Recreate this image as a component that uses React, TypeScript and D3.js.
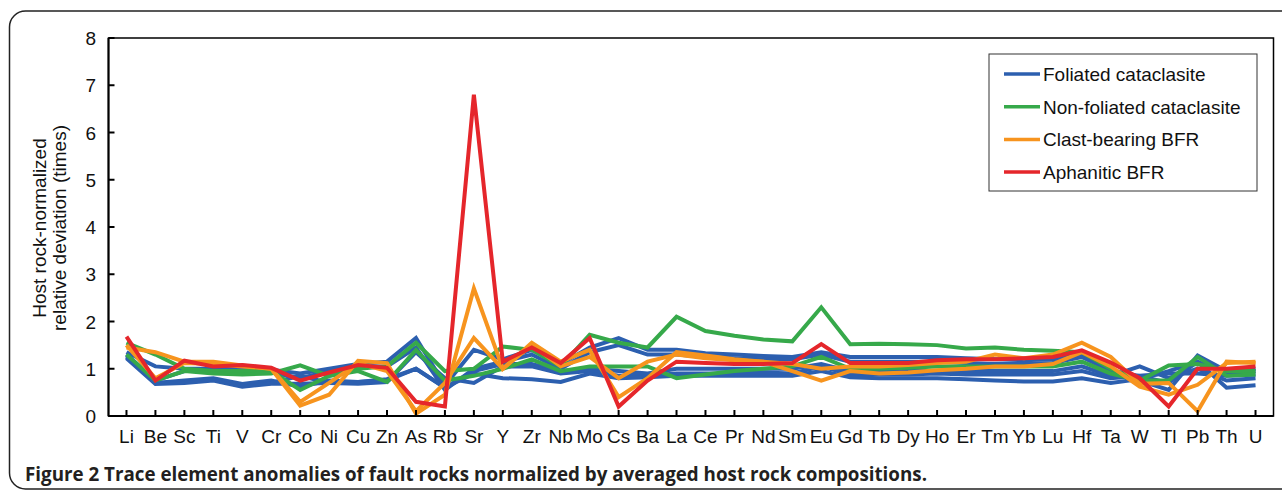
import React from "react";
import * as d3 from "d3";

const elements = [
  "Li", "Be", "Sc", "Ti", "V", "Cr", "Co", "Ni", "Cu", "Zn",
  "As", "Rb", "Sr", "Y", "Zr", "Nb", "Mo", "Cs", "Ba", "La",
  "Ce", "Pr", "Nd", "Sm", "Eu", "Gd", "Tb", "Dy", "Ho", "Er",
  "Tm", "Yb", "Lu", "Hf", "Ta", "W", "Tl", "Pb", "Th", "U",
];

const yTicks = [0, 1, 2, 3, 4, 5, 6, 7, 8];

// Foliated cataclasite samples
const foliated1 = [1.35, 1.05, 1.0, 1.0, 1.0, 0.98, 0.9, 1.0, 1.1, 1.15, 1.65, 0.65, 1.4, 1.2, 1.4, 1.1, 1.45, 1.65, 1.4, 1.4, 1.33, 1.3, 1.27, 1.25, 1.35, 1.25, 1.25, 1.25, 1.25, 1.22, 1.2, 1.18, 1.2, 1.3, 1.0, 0.75, 0.55, 1.28, 0.95, 1.0];
const foliated2 = [1.3, 0.75, 0.95, 0.95, 0.95, 0.92, 0.8, 0.95, 1.05, 1.05, 1.45, 0.55, 1.0, 1.15, 1.3, 1.0, 1.35, 1.5, 1.3, 1.3, 1.25, 1.22, 1.2, 1.2, 1.3, 1.15, 1.15, 1.15, 1.15, 1.12, 1.1, 1.1, 1.12, 1.25, 0.95, 0.85, 0.7, 1.15, 0.9, 0.95];
const foliated3 = [1.25, 0.7, 0.75, 0.8, 0.68, 0.75, 0.62, 0.75, 0.72, 0.78, 1.0, 0.6, 0.95, 1.1, 1.1, 0.95, 1.0, 0.95, 0.9, 1.0, 1.0, 1.0, 1.0, 1.0, 1.1, 0.95, 0.95, 0.95, 0.95, 0.95, 0.95, 0.95, 0.95, 1.05, 0.85, 1.05, 0.8, 1.0, 0.75, 0.8];
const foliated4 = [1.28, 0.7, 0.72, 0.78, 0.65, 0.7, 0.85, 0.7, 0.68, 0.72, 1.35, 0.8, 0.7, 1.05, 1.05, 0.9, 0.95, 0.85, 0.85, 0.9, 0.9, 0.9, 0.92, 0.9, 1.05, 0.88, 0.88, 0.88, 0.9, 0.88, 0.88, 0.88, 0.88, 0.95, 0.8, 0.85, 0.9, 0.9, 0.85, 0.88];
const foliated5 = [1.22, 0.68, 0.7, 0.75, 0.62, 0.68, 0.68, 0.7, 0.72, 0.75, 1.0, 0.6, 0.9, 0.8, 0.78, 0.72, 0.9, 0.8, 0.82, 0.85, 0.85, 0.85, 0.85, 0.85, 0.95, 0.82, 0.8, 0.8, 0.8, 0.78, 0.75, 0.73, 0.73, 0.8, 0.7, 0.78, 0.95, 1.15, 0.6, 0.65];

// Non-foliated cataclasite samples
const nonFoliated1 = [1.55, 1.3, 1.0, 0.95, 0.95, 0.95, 0.55, 0.85, 1.0, 1.05, 1.55, 0.95, 1.0, 1.47, 1.4, 1.05, 1.72, 1.55, 1.45, 2.1, 1.8, 1.7, 1.62, 1.58, 2.3, 1.52, 1.53, 1.52, 1.5, 1.43, 1.45, 1.4, 1.38, 1.35, 1.0, 0.75, 1.07, 1.1, 0.95, 0.95];
const nonFoliated2 = [1.3, 0.75, 0.95, 0.9, 0.88, 0.9, 1.07, 0.85, 0.95, 0.72, 1.4, 0.75, 0.85, 1.0, 1.2, 0.95, 1.05, 1.05, 1.05, 0.8, 0.88, 0.95, 1.0, 1.05, 1.25, 1.0, 1.0, 1.02, 1.05, 1.05, 1.05, 1.05, 1.05, 1.15, 0.9, 0.75, 0.75, 1.25, 0.85, 0.88];

// Clast-bearing BFR samples
const clastBearing1 = [1.45, 1.35, 1.15, 1.15, 1.07, 1.0, 0.22, 0.45, 1.17, 1.12, 0.05, 0.45, 2.7, 1.0, 1.55, 1.15, 1.4, 0.4, 0.8, 1.35, 1.28, 1.2, 1.15, 0.95, 0.75, 0.95, 0.9, 0.92, 0.97, 1.0, 1.05, 1.05, 1.1, 1.35, 1.05, 0.62, 0.45, 0.66, 1.12, 1.15];
const clastBearing2 = [1.5, 0.8, 1.12, 1.1, 1.05, 1.0, 0.3, 0.7, 1.12, 0.95, 0.1, 0.7, 1.65, 1.0, 1.5, 1.05, 1.25, 0.8, 1.15, 1.3, 1.22, 1.18, 1.15, 1.1, 1.0, 1.05, 1.05, 1.08, 1.12, 1.15, 1.3, 1.22, 1.3, 1.55, 1.25, 0.68, 0.7, 0.1, 1.15, 1.12];

// Aphanitic BFR
const aphanitic = [1.68, 0.75, 1.17, 1.05, 1.08, 1.02, 0.75, 0.92, 1.08, 1.02, 0.3, 0.2, 6.8, 1.15, 1.45, 1.12, 1.65, 0.2, 0.75, 1.15, 1.12, 1.1, 1.1, 1.12, 1.52, 1.12, 1.12, 1.12, 1.18, 1.2, 1.2, 1.22, 1.25, 1.39, 1.13, 0.8, 0.2, 1.0, 1.0, 1.05];

const groups = [
  { name: "Foliated cataclasite", color: "#2c5faf", series: [foliated1, foliated2, foliated3, foliated4, foliated5] },
  { name: "Non-foliated cataclasite", color: "#36a94a", series: [nonFoliated1, nonFoliated2] },
  { name: "Clast-bearing BFR", color: "#f7941e", series: [clastBearing1, clastBearing2] },
  { name: "Aphanitic BFR", color: "#e5262b", series: [aphanitic] },
];

const W = 1282;
const H = 491;
const plotLeft = 108.5;
const plotRight = 1273.5;
const plotTop = 38;
const plotBottom = 416;
const font = "'Liberation Sans', Arial, sans-serif";

export default function App() {
  const x = d3.scalePoint<string>().domain(elements).range([112, 1270]).padding(0.5);
  const y = d3.scaleLinear().domain([0, 8]).range([plotBottom, plotTop]);

  const line = d3
    .line<number>()
    .x((_, i) => x(elements[i]) as number)
    .y((d) => y(d));

  return (
    <svg width={W} height={H} style={{ position: "absolute", left: 0, top: 0, background: "#fff" }}>
      {/* outer figure frame */}
      <rect x={9.5} y={11} width={1300} height={478} rx={16} fill="none" stroke="#222" strokeWidth={1.5} />

      {/* lines */}
      <g fill="none" strokeWidth={4} strokeLinejoin="miter">
        {groups.map((g) =>
          g.series.map((s, i) => <path key={g.name + i} d={line(s) ?? ""} stroke={g.color} />)
        )}
      </g>

      {/* plot box */}
      <rect x={plotLeft} y={plotTop} width={plotRight - plotLeft} height={plotBottom - plotTop} fill="none" stroke="#000" strokeWidth={1.5} />
      <line x1={plotLeft} x2={plotLeft} y1={plotTop} y2={plotBottom} stroke="#000" strokeWidth={2} />
      <line x1={plotLeft} x2={plotRight} y1={plotBottom} y2={plotBottom} stroke="#000" strokeWidth={2} />

      {/* y ticks */}
      {yTicks.map((t) => (
        <g key={t}>
          <line x1={plotLeft} x2={plotLeft + 6} y1={y(t)} y2={y(t)} stroke="#000" strokeWidth={2} />
          <text x={96} y={y(t) + 7} textAnchor="end" fontFamily={font} fontSize={19} fill="#111">
            {t}
          </text>
        </g>
      ))}

      {/* x ticks */}
      {elements.map((e) => (
        <g key={e}>
          <line x1={x(e)} x2={x(e)} y1={plotBottom} y2={plotBottom - 6} stroke="#000" strokeWidth={2} />
          <text x={x(e)} y={443} textAnchor="middle" fontFamily={font} fontSize={19} fill="#111">
            {e}
          </text>
        </g>
      ))}

      {/* y axis title */}
      <text transform="translate(46,228) rotate(-90)" textAnchor="middle" fontFamily={font} fontSize={19} fill="#111">
        Host rock-normalized
      </text>
      <text transform="translate(66,228) rotate(-90)" textAnchor="middle" fontFamily={font} fontSize={19} fill="#111">
        relative deviation (times)
      </text>

      {/* legend */}
      <rect x={989} y={54} width={268} height={137} fill="#fff" stroke="#333" strokeWidth={1} />
      {groups.map((g, i) => (
        <g key={g.name} transform={`translate(0,${74 + i * 32.7})`}>
          <line x1={1004} x2={1040} y1={0} y2={0} stroke={g.color} strokeWidth={3.5} />
          <text x={1043} y={7} fontFamily={font} fontSize={19} fill="#111">
            {g.name}
          </text>
        </g>
      ))}

      {/* caption */}
      <text x={25} y={481} fontFamily="'Open Sans', sans-serif" fontWeight={700} fontSize={19} fill="#231f20" textLength={902} lengthAdjust="spacingAndGlyphs">
        Figure 2 Trace element anomalies of fault rocks normalized by averaged host rock compositions.
      </text>
    </svg>
  );
}
